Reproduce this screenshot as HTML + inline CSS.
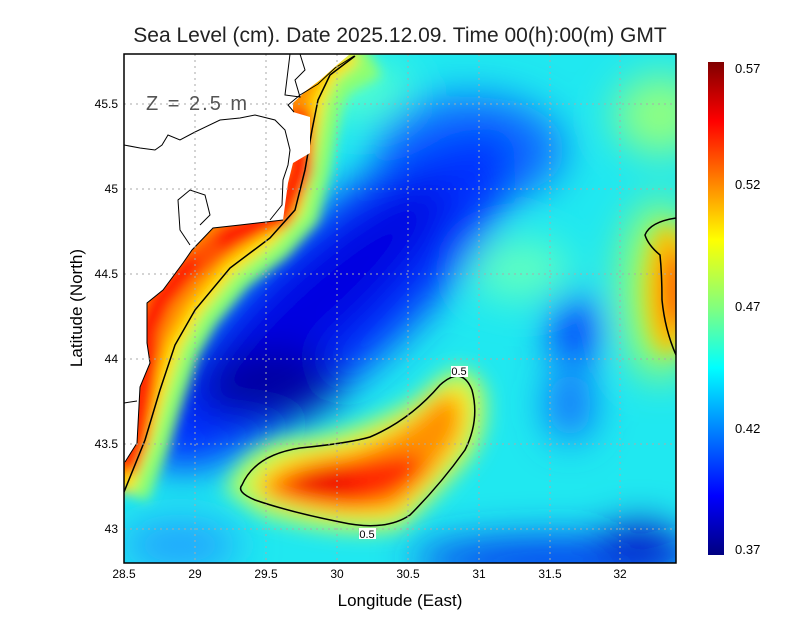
<!DOCTYPE html>
<html><head><meta charset="utf-8"><style>
body{margin:0;background:#fff;width:800px;height:618px;overflow:hidden;font-family:"Liberation Sans",sans-serif}
</style></head><body>
<svg width="800" height="618" xmlns="http://www.w3.org/2000/svg" font-family="Liberation Sans, sans-serif">
<defs>
<clipPath id="pc"><rect x="124" y="54" width="552" height="509"/></clipPath>
<filter id="b1" x="-50%" y="-50%" width="200%" height="200%"><feGaussianBlur stdDeviation="20"/></filter>
<filter id="b2" x="-50%" y="-50%" width="200%" height="200%"><feGaussianBlur stdDeviation="10"/></filter>
<filter id="b3" x="-50%" y="-50%" width="200%" height="200%"><feGaussianBlur stdDeviation="6"/></filter>
<linearGradient id="cb" x1="0" y1="0" x2="0" y2="1">
<stop offset="0" stop-color="#800000"/><stop offset="0.12" stop-color="#ff0000"/><stop offset="0.36" stop-color="#ffff00"/><stop offset="0.5" stop-color="#80ff80"/><stop offset="0.62" stop-color="#00ffff"/><stop offset="0.88" stop-color="#0000ff"/><stop offset="1" stop-color="#000080"/>
</linearGradient>
</defs>
<text x="400" y="42" text-anchor="middle" font-size="21" fill="#222">Sea Level (cm). Date 2025.12.09. Time 00(h):00(m) GMT</text>
<g clip-path="url(#pc)">
<rect x="124" y="54" width="552" height="509" fill="#20e8f0"/>
<g filter="url(#b1)">
<ellipse cx="660" cy="115" rx="45" ry="40" fill="#90ff80"/>
<ellipse cx="520" cy="270" rx="50" ry="30" fill="#60ffc0"/>
<ellipse cx="360" cy="90" rx="50" ry="30" fill="#50ffd0"/>
<ellipse cx="470" cy="150" rx="95" ry="55" fill="#1070ff"/>
<ellipse cx="330" cy="300" rx="240" ry="75" transform="rotate(-42 330 300)" fill="#0030ff"/>
<ellipse cx="320" cy="300" rx="170" ry="42" transform="rotate(-42 320 300)" fill="#0000e0"/>
<ellipse cx="270" cy="385" rx="70" ry="35" fill="#0000a0"/>
<ellipse cx="575" cy="330" rx="25" ry="35" fill="#0030ff"/>
<ellipse cx="570" cy="405" rx="22" ry="35" fill="#1060ff"/>
<ellipse cx="560" cy="560" rx="150" ry="22" fill="#0030f0"/>
<ellipse cx="640" cy="545" rx="40" ry="20" fill="#0000c0"/>
<ellipse cx="180" cy="545" rx="60" ry="25" fill="#20a0ff"/>
<ellipse cx="660" cy="290" rx="40" ry="90" fill="#a0ff60"/>
</g>
<g filter="url(#b2)">
<ellipse cx="668" cy="290" rx="22" ry="65" fill="#ffc000"/>
<ellipse cx="675" cy="290" rx="10" ry="40" fill="#ff4000"/>
<path d="M225,490 Q245,440 300,438 Q360,432 420,395 Q465,345 485,390 Q492,430 470,460 Q430,505 400,530 Q340,540 260,515 Z" fill="#b0ff60"/>
<path d="M250,485 Q270,455 310,450 Q360,444 410,415 Q455,370 470,395 Q475,430 455,455 Q420,500 395,518 Q340,525 265,500 Z" fill="#ffe000"/>
<path d="M262,485 Q290,460 350,455 Q405,435 440,398 Q462,390 458,430 Q432,482 392,508 Q330,515 268,497 Z" fill="#ff9000"/>
<path d="M280,482 Q320,462 380,458 Q420,450 425,465 Q400,500 350,505 Q300,500 282,490 Z" fill="#ff2800"/>
<ellipse cx="325" cy="482" rx="30" ry="13" fill="#ee0000"/>
</g>
<g filter="url(#b3)">
<path d="M370,54 L330,75 L318,100 L312,130 L305,170 L295,210 L270,238 L230,268 L195,310 L175,345 L160,390 L145,440 L124,492" fill="none" stroke="#90ff70" stroke-width="50"/>
<path d="M355,56 L330,75 L318,100 L312,130 L305,170 L295,210 L270,238 L230,268 L195,310 L175,345 L160,390 L145,440 L124,492 L100,492 L100,54 Z" fill="#ff9000"/>
<path d="M355,56 L330,75 L318,100 L312,130 L305,170 L295,210 L270,238 L230,268 L195,310 L175,345 L160,390 L145,440 L124,492" fill="none" stroke="#ffe000" stroke-width="14"/>
<path d="M300,110 L300,170 L280,215 L230,235 L185,270 L160,300 L147,330 L145,380 L135,440 L124,470" fill="none" stroke="#ff2000" stroke-width="24"/>
<path d="M220,245 L195,260" fill="none" stroke="#ff5000" stroke-width="20"/>
</g>
<path d="M355,56 L330,75 L318,100 L312,130 L305,170 L295,210 L270,238 L230,268 L195,310 L175,345 L160,390 L145,440 L124,492" fill="none" stroke="#000" stroke-width="1.5"/>
<path d="M242,485 Q255,455 300,448 Q350,443 370,437 Q410,420 440,385 Q462,365 472,390 Q480,420 465,450 Q440,485 410,515 Q385,532 340,522 Q290,512 255,500 Q236,492 242,485 Z" fill="none" stroke="#000" stroke-width="1.5"/>
<path d="M676,218 Q650,222 645,235 Q648,245 660,255 Q662,275 662,300 Q665,330 676,355" fill="none" stroke="#000" stroke-width="1.5"/>
<path d="M360,54 L350,54 L337,65 L320,80 L307,90 L293,103 L293,112 L310,117 L310,153 L293,163 L288,183 L283,220 L240,225 L213,228 L192,250 L183,263 L163,290 L147,303 L147,343 L150,363 L140,387 L137,443 L125,462 L110,462 L110,40 Z" fill="#fff"/>
<g fill="none" stroke="#000" stroke-width="1">
<path d="M354,56 L335,68 L318,84 L300,95 L288,105 L294,112"/>
<path d="M124,145 L140,148 L155,150 L162,145 L168,135 L180,140 L195,132 L220,120 L240,118 L255,115 L275,120 L285,130 L290,150 L288,165 L283,180 L282,205 L270,220"/>
<path d="M283,220 L240,225 L213,228 L192,250 L183,263 L163,290 L147,303 L147,343 L150,363 L140,387 L137,443 L125,462"/>
<path d="M190,245 L180,230 L178,200 L190,190 L205,195 L210,215 L200,225"/>
<path d="M290,54 L285,95 L300,97 L295,80 L305,70 L300,54"/>
<path d="M124,403 L137,401"/>
</g>
<g stroke="#aaa" stroke-width="1" stroke-dasharray="2,4">
<line x1="195" y1="54" x2="195" y2="563"/><line x1="266" y1="54" x2="266" y2="563"/><line x1="337" y1="54" x2="337" y2="563"/><line x1="408" y1="54" x2="408" y2="563"/><line x1="479" y1="54" x2="479" y2="563"/><line x1="550" y1="54" x2="550" y2="563"/><line x1="620" y1="54" x2="620" y2="563"/>
<line x1="124" y1="104" x2="676" y2="104"/><line x1="124" y1="189" x2="676" y2="189"/><line x1="124" y1="274" x2="676" y2="274"/><line x1="124" y1="359" x2="676" y2="359"/><line x1="124" y1="444" x2="676" y2="444"/><line x1="124" y1="529" x2="676" y2="529"/>
</g>
<rect x="451" y="366" width="17" height="11" fill="#fff"/><text x="459" y="375" font-size="11" text-anchor="middle">0.5</text>
<rect x="359" y="528" width="17" height="11" fill="#fff"/><text x="367" y="538" font-size="11" text-anchor="middle">0.5</text>
<text x="146" y="110" font-size="20" fill="#555" letter-spacing="2">Z = 2.5 m</text>
</g>
<rect x="124" y="54" width="552" height="509" fill="none" stroke="#000" stroke-width="1.5"/>
<g font-size="12" fill="#000" text-anchor="middle">
<text x="124" y="578">28.5</text><text x="195" y="578">29</text><text x="266" y="578">29.5</text><text x="337" y="578">30</text><text x="408" y="578">30.5</text><text x="479" y="578">31</text><text x="550" y="578">31.5</text><text x="620" y="578">32</text>
</g>
<g font-size="12" fill="#000" text-anchor="end">
<text x="118" y="108">45.5</text><text x="118" y="193">45</text><text x="118" y="278">44.5</text><text x="118" y="363">44</text><text x="118" y="448">43.5</text><text x="118" y="533">43</text>
</g>
<text x="400" y="606" text-anchor="middle" font-size="17">Longitude (East)</text>
<text transform="translate(82 308) rotate(-90)" text-anchor="middle" font-size="17">Latitude (North)</text>
<rect x="708" y="62" width="16" height="493" fill="url(#cb)"/>
<g font-size="13" fill="#000">
<text x="735" y="73">0.57</text><text x="735" y="189">0.52</text><text x="735" y="311">0.47</text><text x="735" y="433">0.42</text><text x="735" y="554">0.37</text>
</g>
</svg>
</body></html>
